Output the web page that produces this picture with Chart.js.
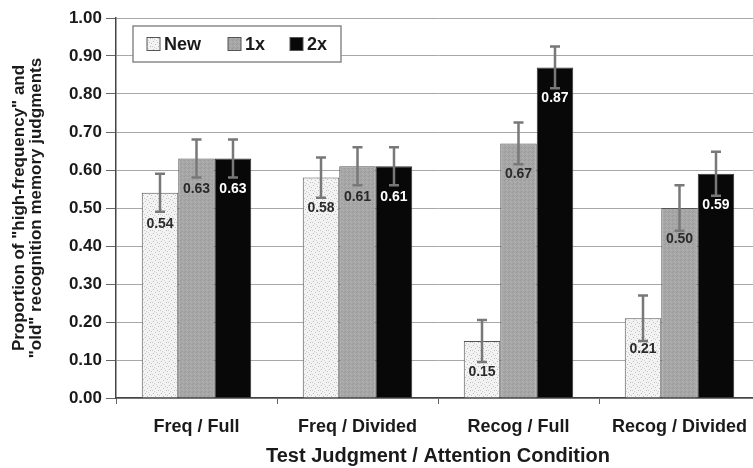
<!DOCTYPE html>
<html lang="en">
<head>
  <meta charset="UTF-8">
  <title>Judgments by Test / Attention Condition</title>
  <script src="https://cdn.jsdelivr.net/npm/chart.js"></script>
  <style>
    body {
      margin: 0;
      background: #fff;
      overflow: hidden;
    }
    .wrap {
      width: 770px;
      height: 468px;
    }
  </style>
</head>
<body>
<div class="wrap">
  <canvas id="chart" width="770" height="468"></canvas>
</div>
<script>
  const categories = ['Freq / Full', 'Freq / Divided', 'Recog / Full', 'Recog / Divided'];
  const seriesNames = ['New', '1x', '2x'];
  const newVals = [0.54, 0.58, 0.15, 0.21];
  const onceVals = [0.63, 0.61, 0.67, 0.50];
  const twiceVals = [0.63, 0.61, 0.87, 0.59];
  const newErr = [0.05, 0.053, 0.055, 0.06];
  const onceErr = [0.05, 0.05, 0.055, 0.06];
  const twiceErr = [0.05, 0.05, 0.055, 0.058];

  const FONT = "'Liberation Sans', Arial, sans-serif";

  // little textures for the light and grey bars
  function makePattern(base, dots, size) {
    const c = document.createElement('canvas');
    c.width = size; c.height = size;
    const g = c.getContext('2d');
    g.fillStyle = base;
    g.fillRect(0, 0, size, size);
    dots.forEach(d => {
      g.fillStyle = d[2];
      g.fillRect(d[0], d[1], 1, 1);
    });
    return g.createPattern(c, 'repeat');
  }
  const newFill = makePattern('#f3f3f3', [
    [1, 1, '#b5b5b5'], [5, 2, '#c4c4c4'], [3, 4, '#bcbcbc'], [0, 6, '#c8c8c8'],
    [6, 6, '#b8b8b8'], [4, 0, '#d0d0d0'], [2, 7, '#cfcfcf'], [7, 3, '#c0c0c0']
  ], 8);
  const onceFill = makePattern('#a6a6a6', [
    [0, 0, '#999'], [2, 1, '#b3b3b3'], [1, 3, '#9c9c9c'], [3, 2, '#b0b0b0']
  ], 4);

  const errors = [newErr, onceErr, twiceErr];
  const labelColors = ['#2a2a2a', '#2a2a2a', '#ffffff'];

  const extras = {
    id: 'extras',
    afterDatasetsDraw(chart) {
      const ctx = chart.ctx;
      const y = chart.scales.y;
      chart.data.datasets.forEach((ds, i) => {
        const meta = chart.getDatasetMeta(i);
        meta.data.forEach((bar, j) => {
          const v = ds.data[j];
          const e = errors[i][j];
          const yTop = y.getPixelForValue(v + e);
          const yBot = y.getPixelForValue(v - e);
          ctx.save();
          ctx.strokeStyle = '#787878';
          ctx.lineWidth = 2.5;
          ctx.beginPath();
          ctx.moveTo(bar.x, yTop);
          ctx.lineTo(bar.x, yBot);
          ctx.moveTo(bar.x - 5, yTop);
          ctx.lineTo(bar.x + 5, yTop);
          ctx.moveTo(bar.x - 5, yBot);
          ctx.lineTo(bar.x + 5, yBot);
          ctx.stroke();
          ctx.fillStyle = labelColors[i];
          ctx.font = 'bold 14px ' + FONT;
          ctx.textAlign = 'center';
          ctx.textBaseline = 'middle';
          ctx.fillText(v.toFixed(2), bar.x, bar.y + 31);
          ctx.restore();
        });
      });
    },
    afterDraw(chart) {
      // legend box sitting inside the plot, top left
      const ctx = chart.ctx;
      const a = chart.chartArea;
      const bx = a.left + 17, by = a.top + 8, bw = 208, bh = 36;
      ctx.save();
      ctx.fillStyle = '#fff';
      ctx.fillRect(bx, by, bw, bh);
      ctx.strokeStyle = '#8a8a8a';
      ctx.lineWidth = 1.5;
      ctx.strokeRect(bx, by, bw, bh);
      const xs = [14, 95, 157];
      ctx.font = 'bold 18px ' + FONT;
      ctx.textBaseline = 'middle';
      chart.data.datasets.forEach((ds, i) => {
        const sx = bx + xs[i], sy = by + bh / 2 - 6.5;
        ctx.fillStyle = ds.backgroundColor;
        ctx.fillRect(sx, sy, 13, 13);
        ctx.strokeStyle = '#555';
        ctx.lineWidth = 1;
        ctx.strokeRect(sx, sy, 13, 13);
        ctx.fillStyle = '#1a1a1a';
        ctx.fillText(ds.label, sx + 17, by + bh / 2 + 1);
      });
      ctx.restore();
    }
  };

  new Chart(document.getElementById('chart'), {
    type: 'bar',
    data: {
      labels: categories,
      datasets: [
        { label: seriesNames[0], data: newVals, backgroundColor: newFill, borderColor: '#555', borderWidth: 1 },
        { label: seriesNames[1], data: onceVals, backgroundColor: onceFill, borderColor: '#555', borderWidth: 1 },
        { label: seriesNames[2], data: twiceVals, backgroundColor: '#080808', borderColor: '#333', borderWidth: 1 }
      ]
    },
    options: {
      responsive: false,
      animation: false,
      layout: { padding: { top: 18, right: 10, left: 0, bottom: 0 } },
      plugins: {
        legend: { display: false },
        tooltip: { enabled: false }
      },
      datasets: {
        bar: { categoryPercentage: 0.68, barPercentage: 1 }
      },
      scales: {
        x: {
          grid: { display: true, drawOnChartArea: false, tickLength: 6, color: '#666' },
          border: { color: '#444', width: 1.5 },
          ticks: { color: '#1a1a1a', font: { family: FONT, size: 18, weight: 'bold' }, padding: 12, maxRotation: 0 },
          title: {
            display: true,
            text: 'Test Judgment / Attention Condition',
            color: '#1a1a1a',
            font: { family: FONT, size: 20, weight: 'bold' },
            padding: { top: 0, bottom: 0 }
          },
          afterFit(s) { s.height = 70; }
        },
        y: {
          min: 0,
          max: 1,
          grid: { color: '#a8a8a8', lineWidth: 1, tickLength: 10, tickColor: '#666' },
          border: { color: '#444', width: 1.5 },
          ticks: {
            stepSize: 0.1,
            color: '#1a1a1a',
            padding: 4,
            font: { family: FONT, size: 17, weight: 'bold' },
            callback: v => v.toFixed(2)
          },
          title: {
            display: true,
            text: ['Proportion of "high-frequency" and', '"old" recognition memory judgments'],
            color: '#1a1a1a',
            font: { family: FONT, size: 17, weight: 'bold', lineHeight: 1.05 },
            padding: { top: 10, bottom: 0 }
          },
          afterFit(s) { s.width = 116; }
        }
      }
    },
    plugins: [extras]
  });
</script>
</body>
</html>
